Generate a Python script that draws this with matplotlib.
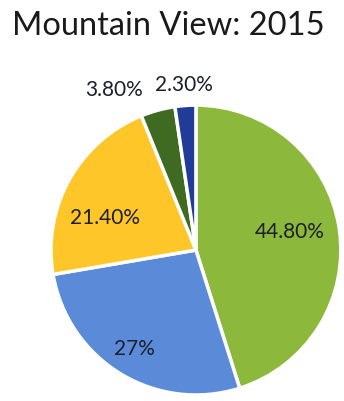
import numpy as np
import matplotlib
matplotlib.use("Agg")
import matplotlib.pyplot as plt

# Mountain View share breakdown, 2015
values = [44.8, 27.0, 21.4, 3.8, 2.3]
labels = ["44.80%", "27%", "21.40%", "3.80%", "2.30%"]
colors = ["#8cb93c", "#5b8bd8", "#ffc629", "#3f6a22", "#203c98"]

# label placement: distance from centre and angle (deg) for each slice label
label_r = [0.66, 0.80, 0.67, 1.25, 1.15]
label_ang = [11.5, 238, 160, 117, 94]

plt.rcParams['font.family'] = ['Lato', 'DejaVu Sans']

fig = plt.figure(figsize=(3.44, 4.02), dpi=100)
ax = fig.add_axes([0.148, 0.015, 0.843, 0.721])

wedges, _ = ax.pie(values, colors=colors, startangle=90, counterclock=False,
                   wedgeprops=dict(edgecolor="white", linewidth=2.5))
ax.set_xlim(-1, 1)
ax.set_ylim(-1, 1)
ax.set_aspect("equal")

for lab, r, a in zip(labels, label_r, label_ang):
    t = np.deg2rad(a)
    ax.text(r * np.cos(t), r * np.sin(t), lab, ha="center", va="center",
            fontsize=15, color="#1c1f2b")

fig.text(0.49, 1 - 35 / 402, "Mountain View: 2015", ha="center", va="baseline",
         fontsize=23.5, color="#1a1a1a")

fig.savefig("out.png", dpi=100)
